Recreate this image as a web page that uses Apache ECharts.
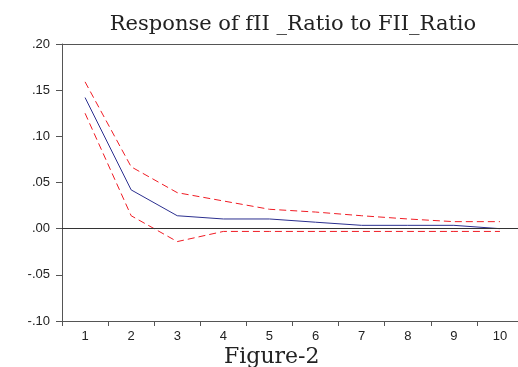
<!DOCTYPE html>
<html>
<head>
<meta charset="utf-8">
<script src="https://cdn.jsdelivr.net/npm/echarts@6/dist/echarts.min.js"></script>
<style>
  html, body { margin: 0; padding: 0; background: #fff; }
  #chart { width: 518px; height: 367px; }
</style>
</head>
<body>
<div id="chart"></div>
<script>
// Impulse response, periods 1..10
const periods = ["1", "2", "3", "4", "5", "6", "7", "8", "9", "10"];
const response = [0.142, 0.042, 0.014, 0.0105, 0.0105, 0.007, 0.0036, 0.0036, 0.0036, 0.0];
const upperBand = [0.159, 0.067, 0.039, 0.030, 0.021, 0.018, 0.014, 0.0105, 0.0076, 0.0076];
const lowerBand = [0.125, 0.014, -0.014, -0.003, -0.003, -0.003, -0.003, -0.003, -0.003, -0.003];

const chart = echarts.init(document.getElementById("chart"));

const fmtY = (v) => {
  const s = Math.abs(v).toFixed(2).replace(/^0/, "");
  return (v < -1e-9 ? "-" : "") + s;
};

const dashed = {
  type: "line",
  symbol: "none",
  lineStyle: { color: "#f01c24", width: 1, type: [7, 4] },
  silent: true,
};

chart.setOption({
  animation: false,
  title: {
    text: "Response of fII _Ratio to FII_Ratio",
    left: 288,
    textAlign: "center",
    top: 9,
    textStyle: {
      fontFamily: "DejaVu Serif",
      fontWeight: "normal",
      fontSize: 21,
      color: "#222",
    },
  },
  grid: {
    left: 62,
    top: 44,
    right: -5,
    height: 277,
    outerBoundsMode: "none",
  },
  xAxis: [
    {
      type: "category",
      data: periods,
      boundaryGap: true,
      axisLine: { onZero: false, lineStyle: { color: "#555" } },
      axisTick: { show: true, length: 5, lineStyle: { color: "#555" } },
      axisLabel: { color: "#222", fontFamily: "Liberation Sans", fontSize: 13, margin: 9 },
      splitLine: { show: false },
    },
    {
      // top frame line
      type: "category",
      data: periods,
      position: "top",
      axisLine: { onZero: false, lineStyle: { color: "#555" } },
      axisTick: { show: false },
      axisLabel: { show: false },
    },
  ],
  yAxis: {
    type: "value",
    min: -0.1,
    max: 0.2,
    interval: 0.05,
    axisLine: { show: true, lineStyle: { color: "#555" } },
    axisTick: { show: true, length: 6, lineStyle: { color: "#555" } },
    axisLabel: { color: "#222", fontFamily: "Liberation Sans", fontSize: 13, margin: 12, formatter: fmtY },
    splitLine: { show: false },
  },
  series: [
    Object.assign({}, dashed, { name: "upper", data: upperBand }),
    Object.assign({}, dashed, { name: "lower", data: lowerBand }),
    {
      name: "response",
      type: "line",
      symbol: "none",
      data: response,
      lineStyle: { color: "#2b2f8f", width: 1 },
      markLine: {
        silent: true,
        symbol: "none",
        label: { show: false },
        lineStyle: { color: "#333", width: 1, type: "solid" },
        data: [{ yAxis: 0 }],
      },
    },
  ],
  graphic: [
    {
      type: "text",
      left: 224,
      top: 346,
      style: {
        text: "Figure-2",
        font: "22px 'DejaVu Serif'",
        fill: "#222",
      },
    },
  ],
});
</script>
</body>
</html>
